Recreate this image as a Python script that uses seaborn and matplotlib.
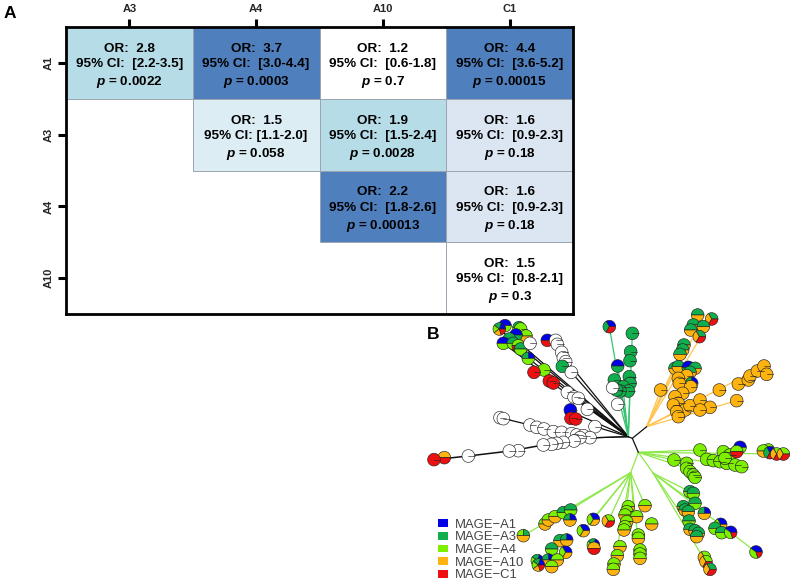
import numpy as np
import pandas as pd
import matplotlib
matplotlib.use("Agg")
import matplotlib.pyplot as plt
from matplotlib.colors import ListedColormap
from matplotlib.patches import Patch, Rectangle
import seaborn as sns

# ---------- Panel A data ----------
row_labels = ["A1", "A3", "A4", "A10"]
col_labels = ["A3", "A4", "A10", "C1"]
or_values = [["2.8", "3.7", "1.2", "4.4"],
             ["", "1.5", "1.9", "1.6"],
             ["", "", "2.2", "1.6"],
             ["", "", "", "1.5"]]
ci_values = [["95% CI:  [2.2-3.5]", "95% CI:  [3.0-4.4]", "95% CI:  [0.6-1.8]", "95% CI:  [3.6-5.2]"],
             ["", "95% CI: [1.1-2.0]", "95% CI:  [1.5-2.4]", "95% CI:  [0.9-2.3]"],
             ["", "", "95% CI:  [1.8-2.6]", "95% CI:  [0.9-2.3]"],
             ["", "", "", "95% CI:  [0.8-2.1]"]]
p_values = [["0.0022", "0.0003", "0.7", "0.00015"],
            ["", "0.058", "0.0028", "0.18"],
            ["", "", "0.00013", "0.18"],
            ["", "", "", "0.3"]]
# significance shade class of each cell (nan = not tested)
shade_class = [[2, 4, 0, 4],
               [np.nan, 1, 2, 3],
               [np.nan, np.nan, 4, 3],
               [np.nan, np.nan, np.nan, 0]]
shade_colors = ["#ffffff", "#dcedf4", "#b6dce8", "#dce6f2", "#4f7fbc"]

# ---------- Panel B data (layout units of the tree drawing) ----------
type_names = ["MAGE\u2212A1", "MAGE\u2212A3", "MAGE\u2212A4", "MAGE\u2212A10", "MAGE\u2212C1"]
type_colors = ["#0000e6", "#10ae4c", "#7cf000", "#ffb30f", "#ee1010"]
blank_color = "#ffffff"
# composition: shares of A1, A3, A4, A10, C1, none
comps = {
    "W": [0, 0, 0, 0, 0, 1],
    "B": [1, 0, 0, 0, 0, 0],
    "G": [0, 1, 0, 0, 0, 0],
    "L": [0, 0, 1, 0, 0, 0],
    "O": [0, 0, 0, 1, 0, 0],
    "R": [0, 0, 0, 0, 1, 0],
    "BR": [1, 0, 0, 0, 1, 0],
    "BG": [1, 1, 0, 0, 0, 0],
    "BL": [1, 0, 1, 0, 0, 0],
    "GL": [0, 1, 1, 0, 0, 0],
    "GO": [0, 1, 0, 1, 0, 0],
    "LO": [0, 0, 1, 1, 0, 0],
    "LR": [0, 0, 1, 0, 1, 0],
    "OR": [0, 0, 0, 1, 1, 0],
    "BGO": [1, 1, 0, 2, 0, 0],
    "BGL": [1, 1, 2, 0, 0, 0],
    "BGR": [1, 1, 0, 0, 1, 0],
    "BLO": [1, 0, 1, 1, 0, 0],
    "BLR": [2, 0, 2, 0, 1, 0],
    "GLO": [0, 1, 1, 2, 0, 0],
    "GOR": [0, 1, 0, 1, 1, 0],
    "GLR": [0, 1, 1, 0, 1, 0],
    "LOR": [0, 0, 1, 1, 1, 0],
    "MIX": [1, 1, 1, 1, 1, 0],
}
lower_offset = 375  # lower part of the tree continues below the upper part

black_x = [255, 238, 297, 302, 318, 288, 268, 250, 280, 295, 302, 325, 330, 382, 407, 412, 425, 430, 437,
           427, 454, 372, 342, 388, 400, 442, 462, 475, 502, 451, 453, 467, 525,
           240, 250, 330, 350, 372, 400, 425, 455, 470, 490, 510, 480, 462, 430, 410, 395, 370,
           295, 268, 145, 73, 42]
black_y = [32, 42, 38, 42, 63, 60, 72, 85, 85, 92, 102, 130, 85, 76, 76, 88, 112, 128, 140,
           154, 172, 165, 172, 198, 204, 232, 246, 250, 283, 285, 310, 312, 335,
           308, 311, 330, 337, 342, 350, 352, 356, 360, 362, 368, 368, 378, 382, 385, 388, 390,
           407, 408, 423, 428, 434]
black_k = ["BL", "MIX", "GL", "L", "LO", "BG", "GL", "BL", "GL", "LR", "GL", "BGL", "W", "BR", "W", "W", "W", "W", "W",
           "G", "W", "L", "R", "R", "R", "W", "W", "W", "W", "B", "R", "R", "W",
           "W", "W", "W", "W", "W", "W", "W", "W", "W", "W", "W", "W", "W", "W", "W", "W", "W",
           "W", "W", "W", "OR", "R"]

green_x = [568, 637, 632, 630, 593, 583, 628, 630, 610, 625, 600, 590, 578, 593]
green_y = [35, 55, 110, 137, 153, 195, 185, 205, 215, 228, 228, 225, 218, 268]
green_k = ["BGR", "G", "G", "G", "BG", "G", "G", "G", "G", "G", "G", "G", "W", "W"]

orange_x = [833, 875, 820, 850, 812, 838, 792, 788, 780, 765, 775, 805, 825, 810, 800, 775, 778, 815, 812,
            722, 788, 765, 775, 760, 795, 810, 840, 870, 840, 770, 775, 898, 955, 985, 990, 1012, 1032, 1040, 950]
orange_y = [0, 12, 30, 35, 45, 65, 90, 105, 118, 160, 155, 157, 160, 172, 182, 190, 205, 205, 215,
            225, 235, 245, 265, 270, 285, 272, 255, 277, 285, 290, 305, 225, 207, 195, 183, 168, 153, 178, 257]
orange_k = ["GO", "GOR", "GO", "GO", "GO", "GOR", "GO", "GO", "GO", "GO", "GO", "BG", "GO", "GO", "O", "O", "O", "BGO", "O",
            "O", "O", "O", "O", "O", "O", "O", "O", "O", "O", "O", "O", "O", "O", "O", "O", "O", "O", "O", "O"]

lime_x = [840, 762, 800, 800, 810, 820, 825, 910, 930, 860, 880, 900, 920, 945, 965, 915, 960, 950,
          1045, 1030, 1050, 1070, 1090,
          810, 820, 825, 790, 795, 805, 853, 807, 810, 825, 835, 830, 902, 885, 905, 932, 1008, 853, 858, 870,
          310, 375, 385, 405, 430, 452, 450, 520, 565, 490, 420, 440, 520, 522, 395, 437, 352, 385, 412, 395, 355,
          675, 625, 620, 615, 650, 620, 615, 612, 695, 655, 655, 600, 592, 582, 580, 660, 660, 660]
lime_y = [30, 60, 70, 85, 95, 105, 112, 35, 45, 58, 62, 65, 70, 75, 80, 55, 22, 35,
          30, 33, 38, 42, 42,
          155, 160, 190, 200, 210, 215, 220, 243, 268, 272, 280, 290, 253, 265, 278, 277, 336, 352, 365, 388,
          287, 252, 240, 230, 218, 210, 240, 238, 243, 272, 302, 300, 315, 325, 327, 337, 362, 360, 360, 380, 375,
          197, 200, 215, 225, 230, 245, 260, 270, 252, 285, 295, 320, 347, 372, 388, 330, 342, 355]
lime_k = ["L", "L", "L", "L", "L", "L", "L", "L", "L", "L", "L", "L", "L", "L", "L", "L", "BL", "LR",
          "LR", "LO", "BGR", "LOR", "LOR",
          "GL", "GL", "GL", "GO", "GO", "GO", "BGO", "GL", "GO", "GO", "GO", "GO", "BLO", "GL", "GL", "BLR", "BLR", "LOR", "LOR", "GOR",
          "GLO", "LO", "LO", "LO", "GL", "GL", "BGO", "BLO", "LOR", "BLO", "GO", "BGO", "MIX", "OR", "GL", "BLO", "MIX", "BGO", "LO", "LO", "MIX",
          "LO", "LO", "LO", "LO", "LO", "LO", "LO", "LO", "LO", "LO", "LO", "LO", "LO", "LO", "LO", "LO", "LO", "LO"]

# branches: each hub with the tips it fans out to
black_hub = (625, 365)
black_tips_x = [235, 250, 300, 325, 410, 454, 390, 442, 451, 525, 530]
black_tips_y = [40, 85, 85, 130, 100, 172, 200, 232, 290, 335, 368]
white_path_x = [625, 530, 350, 240]
white_path_y = [365, 368, 335, 308]
white_path2_x = [530, 370, 270, 145, 42]
white_path2_y = [368, 390, 408, 423, 434]
green_hub = (625, 365)
green_tips_x = [568, 593, 637, 630, 610, 600]
green_tips_y = [35, 153, 55, 205, 230, 268]
orange_hub = (680, 335)
orange_tips_x = [722, 780, 838, 765, 875, 770, 840, 950, 1032]
orange_tips_y = [225, 118, 30, 160, 12, 290, 255, 257, 153]
stem_x = [655, 637, 625]
stem_y = [412, 370, 365]
stem2_x = [637, 680]
stem2_y = [370, 335]
lime_hub = (655, 412)
lime_tips_x = [840, 965, 1090, 762, 800, 632, 700]
lime_tips_y = [405, 455, 417, 435, 460, 473, 475]
lime_left_hub = (632, 473)
lime_left_tips_x = [310, 450, 490, 520, 565, 612, 640, 675, 660, 580]
lime_left_tips_y = [662, 585, 647, 613, 618, 645, 575, 572, 730, 763]
lime_right_hub = (700, 475)
lime_right_tips_x = [810, 825, 870, 1008, 830]
lime_right_tips_y = [530, 565, 763, 711, 665]

# ---------- Figure ----------
W, H = 793, 582
sns.set_theme(style="white")
plt.rcParams["font.family"] = ["Liberation Sans", "DejaVu Sans"]
plt.rcParams["mathtext.fontset"] = "custom"
plt.rcParams["mathtext.bfit"] = "Liberation Sans:italic:bold"
plt.rcParams["mathtext.bf"] = "Liberation Sans:bold"
plt.rcParams["mathtext.rm"] = "Liberation Sans"

fig = plt.figure(figsize=(W / 100, H / 100), dpi=100)
fig.patch.set_facecolor("white")


def box(x0, y0, x1, y1):
    return [x0 / W, 1 - y1 / H, (x1 - x0) / W, (y1 - y0) / H]


ax = fig.add_axes(box(66, 27, 573, 314))
annot = [[(f"OR:  {o}\n{c}\n" + r"$\mathbfit{p}$" + f" = {p}") if o else ""
          for o, c, p in zip(ro, rc, rp)]
         for ro, rc, rp in zip(or_values, ci_values, p_values)]
df = pd.DataFrame(shade_class, index=row_labels, columns=col_labels)
sns.heatmap(df, ax=ax, cmap=ListedColormap(shade_colors), vmin=-0.5, vmax=4.5, cbar=False,
            annot=np.array(annot), fmt="", linewidths=0,
            annot_kws={"fontsize": 9.7, "fontweight": "bold", "color": "black", "linespacing": 1.36})
for t in ax.texts:
    px, py = t.get_position()
    t.set_position((px, py + 0.05))
# thin outline around tested cells only
for i, row in enumerate(shade_class):
    for j, v in enumerate(row):
        if not np.isnan(v):
            ax.add_patch(Rectangle((j, i), 1, 1, fill=False, edgecolor="#9aa5b0", linewidth=0.7, zorder=2))
ax.xaxis.tick_top()
ax.tick_params(axis="both", which="major", length=6, width=2.2, color="black", pad=3,
               bottom=False, top=True, left=True, right=False)
ax.set_xticklabels(col_labels, fontsize=8, fontweight="bold", rotation=0)
ax.set_yticklabels(row_labels, fontsize=8, fontweight="bold", rotation=90, va="center")
ax.set_xlabel("")
ax.set_ylabel("")
for s in ax.spines.values():
    s.set_visible(True)
    s.set_linewidth(2.0)
    s.set_color("black")
    s.set_zorder(5)

fig.text(4 / W, 1 - 18 / H, "A", fontsize=12.5, fontweight="bold", color="black")
fig.text(427 / W, 1 - 339 / H, "B", fontsize=12.5, fontweight="bold", color="black")

# ---------- Tree ----------
tx = fig.add_axes(box(420, 300, 793, 582))
tx.set_facecolor("none")

line_black = "#111111"
line_green = "#35c46f"
line_lime = "#8ee84a"
line_orange = "#ffc44d"

for tipx, tipy, hub, col in [
    (black_tips_x, black_tips_y, black_hub, line_black),
    (green_tips_x, green_tips_y, green_hub, line_green),
    (orange_tips_x, orange_tips_y, orange_hub, line_orange),
    (lime_tips_x, lime_tips_y, lime_hub, line_lime),
    (lime_left_tips_x, lime_left_tips_y, lime_left_hub, line_lime),
    (lime_right_tips_x, lime_right_tips_y, lime_right_hub, line_lime),
]:
    for a, b in zip(tipx, tipy):
        tx.plot([hub[0], a], [hub[1], b], color=col, lw=0.9, solid_capstyle="round", zorder=1)
tx.plot(white_path_x, white_path_y, color=line_black, lw=0.9, zorder=1)
tx.plot(white_path2_x, white_path2_y, color=line_black, lw=1.1, zorder=1)
tx.plot(stem_x, stem_y, color=line_black, lw=0.9, zorder=1)
tx.plot(stem2_x, stem2_y, color=line_black, lw=0.9, zorder=1)

pie_colors = type_colors + [blank_color]
node_radius = 19


def draw_nodes(xs, ys, kinds):
    for x, y, k in zip(xs, ys, kinds):
        shares = np.array(comps[k], dtype=float)
        keep = shares > 0
        cols = [c for c, f in zip(pie_colors, keep) if f]
        wedges, _ = tx.pie(shares[keep], colors=cols, center=(x, y), radius=node_radius, startangle=0,
                           counterclock=False, frame=True, normalize=True,
                           wedgeprops={"edgecolor": "#222222", "linewidth": 0.45})
        if keep.sum() == 1:  # a whole pie still shows its start radius
            tx.plot([x, x + node_radius], [y, y], color="#222222", lw=0.45,
                    zorder=wedges[0].get_zorder() + 0.01)


draw_nodes(black_x, black_y, black_k)
draw_nodes(green_x, green_y, green_k)
draw_nodes(orange_x, orange_y, orange_k)
draw_nodes(lime_x, [v + lower_offset for v in lime_y], lime_k)

tx.set_xlim(0, (W - 420) * 3)
tx.set_ylim((H - 315) * 3, -45)
tx.set_aspect("auto")
tx.axis("off")

handles = [Patch(facecolor=c, edgecolor="none", label=n) for c, n in zip(type_colors, type_names)]
tx.legend(handles=handles, loc="upper left", bbox_to_anchor=(0.0475, 0.224),
          frameon=False, fontsize=9.4, labelcolor="#444444", handlelength=0.77, handleheight=0.55,
          handletextpad=0.55, labelspacing=0.05, borderpad=0, borderaxespad=0)

fig.savefig("out.png", dpi=100, facecolor="white")
